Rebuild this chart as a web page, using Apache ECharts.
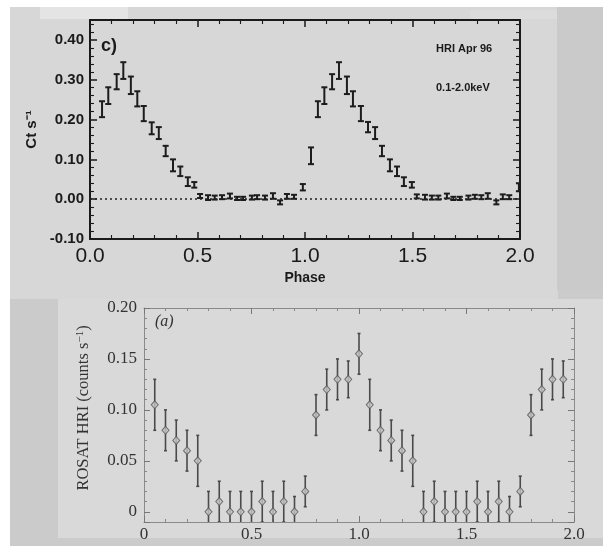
<!DOCTYPE html>
<html>
<head>
<meta charset="utf-8">
<script src="https://cdn.jsdelivr.net/npm/echarts@6/dist/echarts.min.js"></script>
<style>
html, body { margin: 0; padding: 0; background: #fff; }
#wrap { position: relative; width: 603px; height: 546px; }
#wrap .bg { position: absolute; }
#chart { position: absolute; left: 0; top: 0; width: 603px; height: 546px; }
</style>
</head>
<body>
<div id="wrap">
  <!-- scanned page background -->
  <div class="bg" style="left:10px;top:7px;width:547px;height:283px;background:#d7d7d7"></div>
  <div class="bg" style="left:557px;top:7px;width:46px;height:283px;background:#cacaca"></div>
  <div class="bg" style="left:40px;top:7px;width:88px;height:12px;background:#e4e4e4"></div>
  <div class="bg" style="left:470px;top:10px;width:87px;height:9px;background:#dcdcdc"></div>
  <div class="bg" style="left:10px;top:290px;width:593px;height:256px;background:#cbcbcb"></div>
  <div class="bg" style="left:10px;top:290px;width:548px;height:9px;background:#d7d7d7"></div>
  <div class="bg" style="left:58px;top:299px;width:545px;height:239px;background:#d9d9d9"></div>
  <div id="chart"></div>
</div>
<script>
// top panel: HRI Apr 96, 0.1-2.0 keV
var topPhase = [0.056, 0.085, 0.124, 0.155, 0.19, 0.22, 0.25, 0.287, 0.32, 0.352, 0.386, 0.42, 0.455, 0.485,
    0.512, 0.549, 0.58, 0.614, 0.651, 0.684, 0.712, 0.753, 0.777, 0.814, 0.851, 0.884, 0.916, 0.949, 0.99,
    1.028, 1.06, 1.09, 1.126, 1.158, 1.195, 1.223, 1.26, 1.293, 1.326, 1.358, 1.395, 1.428, 1.46, 1.497,
    1.52, 1.558, 1.59, 1.62, 1.66, 1.69, 1.72, 1.76, 1.79, 1.82, 1.85, 1.89, 1.92, 1.95, 1.995];
var topRate = [0.226, 0.26, 0.295, 0.323, 0.286, 0.252, 0.215, 0.178, 0.166, 0.121, 0.085, 0.07, 0.044, 0.036,
    0.008, 0.004, 0.004, 0.005, 0.008, 0.002, 0.002, 0.004, 0.005, 0.004, 0.008, -0.008, 0.007, 0.006, 0.03,
    0.109, 0.226, 0.26, 0.295, 0.323, 0.286, 0.252, 0.215, 0.181, 0.166, 0.121, 0.085, 0.07, 0.044, 0.036,
    0.007, 0.005, 0.004, 0.004, 0.008, 0.002, 0.002, 0.004, 0.006, 0.005, 0.008, -0.008, 0.006, 0.005, 0.03];
var topErr = [0.02, 0.021, 0.019, 0.021, 0.022, 0.019, 0.019, 0.015, 0.015, 0.013, 0.015, 0.012, 0.011, 0.007,
    0.005, 0.006, 0.005, 0.005, 0.006, 0.004, 0.004, 0.005, 0.005, 0.005, 0.007, 0.005, 0.006, 0.005, 0.008,
    0.021, 0.02, 0.021, 0.019, 0.021, 0.022, 0.019, 0.019, 0.013, 0.015, 0.013, 0.015, 0.012, 0.011, 0.007,
    0.005, 0.006, 0.005, 0.005, 0.006, 0.004, 0.004, 0.005, 0.005, 0.005, 0.007, 0.005, 0.006, 0.005, 0.01];

// bottom panel (a): ROSAT HRI
var botPhase = [0.05, 0.1, 0.15, 0.2, 0.25, 0.3, 0.35, 0.4, 0.45, 0.5, 0.55, 0.6, 0.65, 0.7, 0.75, 0.8, 0.85, 0.9, 0.95,
    1.0, 1.05, 1.1, 1.15, 1.2, 1.25, 1.3, 1.35, 1.4, 1.45, 1.5, 1.55, 1.6, 1.65, 1.7, 1.75, 1.8, 1.85, 1.9, 1.95];
var botRate = [0.105, 0.08, 0.07, 0.06, 0.05, 0, 0.01, 0, 0, 0, 0.01, 0, 0.01, 0, 0.02, 0.095, 0.12, 0.13, 0.13,
    0.155, 0.105, 0.08, 0.07, 0.06, 0.05, 0, 0.01, 0, 0, 0, 0.01, 0, 0.01, 0, 0.02, 0.095, 0.12, 0.13, 0.13];
var botErr = [0.025, 0.02, 0.02, 0.02, 0.025, 0.02, 0.02, 0.02, 0.02, 0.02, 0.02, 0.02, 0.02, 0.015, 0.015, 0.02, 0.02, 0.02, 0.018,
    0.02, 0.025, 0.02, 0.02, 0.02, 0.025, 0.02, 0.02, 0.02, 0.02, 0.02, 0.02, 0.02, 0.02, 0.015, 0.015, 0.02, 0.02, 0.02, 0.018];

var topXTicks = ['0.0', '0.5', '1.0', '1.5', '2.0'];
var botXTicks = ['0', '0.5', '1.0', '1.5', '2.0'];

var sans = "'Liberation Sans', Arial, sans-serif";
var serif = "'Liberation Serif', 'DejaVu Serif', serif";

function rows(xs, ys, es) {
    return xs.map(function (x, i) { return [x, ys[i], es[i]]; });
}

function barRenderer(color, width, cap) {
    return function (params, api) {
        var x = api.value(0), y = api.value(1), e = api.value(2);
        var lo = api.coord([x, y - e]);
        var hi = api.coord([x, y + e]);
        var st = { stroke: color, lineWidth: width };
        return {
            type: 'group',
            children: [
                { type: 'line', shape: { x1: lo[0], y1: lo[1], x2: hi[0], y2: hi[1] }, style: st },
                { type: 'line', shape: { x1: lo[0] - cap, y1: lo[1], x2: lo[0] + cap, y2: lo[1] }, style: st },
                { type: 'line', shape: { x1: hi[0] - cap, y1: hi[1], x2: hi[0] + cap, y2: hi[1] }, style: st }
            ]
        };
    };
}

function tickLabel(list) {
    return function (v) {
        var i = Math.round(v / 0.5);
        if (Math.abs(v - i * 0.5) > 1e-6) return '';
        return list[i] || '';
    };
}

// each axis gets its own copy of the style objects
function topLine() { return { show: true, onZero: false, lineStyle: { color: '#1a1a1a', width: 2 } }; }
function botLine() { return { show: true, onZero: false, lineStyle: { color: '#8a8a8a', width: 1 } }; }
function topTick() { return { show: true, inside: true, length: 7, lineStyle: { color: '#1a1a1a', width: 1.5 } }; }
function topMinor() { return { show: true, splitNumber: 5, length: 4, lineStyle: { color: '#1a1a1a', width: 1.1 } }; }
function botTick() { return { show: true, inside: true, length: 6, lineStyle: { color: '#777', width: 1 } }; }
function botMinor() { return { show: true, splitNumber: 5, length: 3, lineStyle: { color: '#888', width: 1 } }; }

var myChart = echarts.init(document.getElementById('chart'));

var option = {
    backgroundColor: 'transparent',
    animation: false,
    graphic: [
        { type: 'text', left: 101, top: 37, style: { text: 'c)', font: 'bold 18px ' + sans, fill: '#1a1a1a' } },
        { type: 'text', left: 436, top: 43, style: { text: 'HRI Apr 96', font: 'bold 11px ' + sans, fill: '#1a1a1a' } },
        { type: 'text', left: 436, top: 82, style: { text: '0.1-2.0keV', font: 'bold 11px ' + sans, fill: '#1a1a1a' } },
        { type: 'text', left: 155, top: 314, style: { text: '(a)', font: 'italic 16px ' + serif, fill: '#333' } }
    ],
    grid: [
        { left: 90, top: 20, width: 430, height: 219 },
        { left: 144, top: 308, width: 430, height: 214 }
    ],
    xAxis: [
        {
            gridIndex: 0, type: 'value', position: 'bottom', min: 0, max: 2, interval: 0.5,
            axisLine: topLine(), axisTick: topTick(), minorTick: topMinor(), splitLine: { show: false },
            axisLabel: { margin: 7, formatter: tickLabel(topXTicks), fontFamily: sans, fontSize: 21, color: '#1a1a1a' },
            name: 'Phase', nameLocation: 'middle', nameGap: 32,
            nameTextStyle: { fontFamily: sans, fontSize: 14, fontWeight: 'bold', color: '#1a1a1a' }
        },
        {
            gridIndex: 0, type: 'value', position: 'top', min: 0, max: 2, interval: 0.5,
            axisLine: topLine(), axisTick: topTick(), minorTick: topMinor(), splitLine: { show: false },
            axisLabel: { show: false }
        },
        {
            gridIndex: 1, type: 'value', position: 'bottom', min: 0, max: 2, interval: 0.5,
            axisLine: botLine(), axisTick: botTick(), minorTick: botMinor(), splitLine: { show: false },
            axisLabel: { margin: 4, formatter: tickLabel(botXTicks), fontFamily: serif, fontSize: 17, color: '#333' }
        },
        {
            gridIndex: 1, type: 'value', position: 'top', min: 0, max: 2, interval: 0.5,
            axisLine: botLine(), axisTick: botTick(), minorTick: botMinor(), splitLine: { show: false },
            axisLabel: { show: false }
        }
    ],
    yAxis: [
        {
            gridIndex: 0, type: 'value', position: 'left', min: -0.1, max: 0.45, interval: 0.1,
            axisLine: topLine(), axisTick: topTick(), minorTick: topMinor(), splitLine: { show: false },
            axisLabel: {
                margin: 6, fontFamily: sans, fontSize: 15, fontWeight: 'bold', color: '#1a1a1a',
                formatter: function (v) { return v > 0.41 ? '' : v.toFixed(2); }
            },
            name: 'Ct s\u207B\u00B9', nameLocation: 'middle', nameGap: 32, nameRotate: 90,
            nameTextStyle: { fontFamily: sans, fontSize: 15, fontWeight: 'bold', color: '#1a1a1a' }
        },
        {
            gridIndex: 0, type: 'value', position: 'right', min: -0.1, max: 0.45, interval: 0.1,
            axisLine: topLine(), axisTick: topTick(), minorTick: topMinor(), splitLine: { show: false },
            axisLabel: { show: false }
        },
        {
            gridIndex: 1, type: 'value', position: 'left', min: -0.01, max: 0.2,
            axisLine: botLine(), axisTick: botTick(), minorTick: botMinor(), splitLine: { show: false },
            axisLabel: {
                margin: 7, fontFamily: serif, fontSize: 17, color: '#333',
                formatter: function (v) { return v < -0.001 ? '' : (Math.abs(v) < 1e-9 ? '0' : v.toFixed(2)); }
            },
            name: 'ROSAT HRI (counts s{sup|\u22121})', nameLocation: 'middle', nameGap: 52, nameRotate: 90,
            nameTextStyle: {
                fontFamily: serif, fontSize: 16.5, color: '#333', padding: [0, 0, 0, 14],
                rich: { sup: { fontFamily: serif, fontSize: 11, color: '#333', verticalAlign: 'top', padding: [0, 0, 6, 0] } }
            }
        },
        {
            gridIndex: 1, type: 'value', position: 'right', min: -0.01, max: 0.2,
            axisLine: botLine(), axisTick: botTick(), minorTick: botMinor(), splitLine: { show: false },
            axisLabel: { show: false }
        }
    ],
    series: [
        {
            name: 'HRI Apr 96', type: 'custom', xAxisIndex: 0, yAxisIndex: 0, clip: true,
            data: rows(topPhase, topRate, topErr),
            encode: { x: 0, y: [1] },
            renderItem: barRenderer('#1c1c1c', 2, 3),
            markLine: {
                silent: true, symbol: ['none', 'none'], label: { show: false },
                lineStyle: { type: [2, 3], color: '#222', width: 1.5 },
                data: [{ yAxis: 0 }]
            }
        },
        {
            name: 'ROSAT HRI bars', type: 'custom', xAxisIndex: 2, yAxisIndex: 2, clip: true,
            data: rows(botPhase, botRate, botErr),
            encode: { x: 0, y: [1] },
            renderItem: barRenderer('#4a4a4a', 1.6, 1.5)
        },
        {
            name: 'ROSAT HRI', type: 'scatter', xAxisIndex: 2, yAxisIndex: 2,
            data: rows(botPhase, botRate, botErr),
            symbol: 'diamond', symbolSize: [7, 8],
            itemStyle: { color: '#c4c4c4', borderColor: '#555', borderWidth: 1 }
        }
    ]
};

myChart.setOption(option);
</script>
</body>
</html>
